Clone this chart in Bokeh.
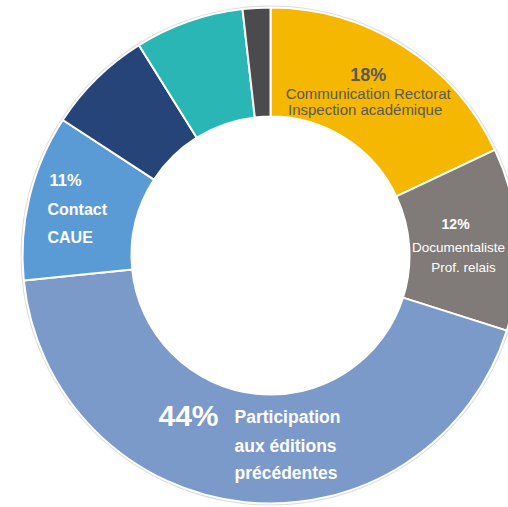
import numpy as np
from bokeh.plotting import figure
from bokeh.models import Range1d, ColumnDataSource
from bokeh.core.properties import value
from bokeh.embed import file_html
from bokeh.resources import INLINE

# ---- data ----
categories = ["Communication Rectorat / Inspection académique",
              "Documentaliste / Prof. relais",
              "Participation aux éditions précédentes",
              "Contact CAUE",
              "Autre A", "Autre B", "Autre C"]
shares = [18.0, 11.9, 43.5, 10.8, 6.9, 7.1, 1.8]
pct_labels = ["18%", "12%", "44%", "11%", "", "", ""]
name_lines = [["Communication Rectorat", "Inspection  académique"],
              ["Documentaliste", "Prof. relais"],
              ["Participation", "aux éditions", "précédentes"],
              ["Contact", "CAUE"],
              [], [], []]
colors = ["#F5B700", "#807B78", "#7B99C9", "#5B9BD5", "#264478", "#2AB6B5", "#4B4A4C"]

# ---- layout ----
W, H = 508, 507
CX, CY = 270, H - 255
R_OUT, R_IN = 248, 139
R_MID = (R_OUT + R_IN) / 2
FONT = value("Liberation Sans")

frac = np.array(shares) / sum(shares)
cum = np.concatenate([[0.0], np.cumsum(frac)])
start = np.pi / 2 - cum[1:] * 2 * np.pi
end = np.pi / 2 - cum[:-1] * 2 * np.pi
mid = (start + end) / 2
ax = CX + R_MID * np.cos(mid)
ay = CY + R_MID * np.sin(mid)

src = ColumnDataSource(dict(start=start, end=end, color=colors, cat=categories))

p = figure(width=W, height=H, x_range=Range1d(0, W), y_range=Range1d(0, H),
           output_backend="svg", toolbar_location=None, min_border=0,
           outline_line_color=None, background_fill_color="white")
p.axis.visible = False
p.grid.visible = False

p.circle(x=CX, y=CY, radius=R_OUT + 1.2, fill_color=None, line_color="#DDDDDD", line_width=1.5)
p.annular_wedge(x=CX, y=CY, inner_radius=R_IN, outer_radius=R_OUT,
                start_angle="start", end_angle="end", direction="anticlock",
                fill_color="color", line_color="white", line_width=2, source=src)

# label styles relative to each slice's mid-point (dx, dy in px, dy downwards)
styles = {
    0: dict(pct=(-6, -17, "18px", "center", "#595959"),
            lines=[(-6, 1), (-7, 17)], size="15px", style="normal", align="center", color="#595959"),
    1: dict(pct=(-8, -19, "14px", "center", "white"),
            lines=[(-5, 5), (0, 25)], size="13.5px", style="normal", align="center", color="white"),
    2: dict(pct=(-62, -32, "30px", "center", "white"),
            lines=[(-16, -31), (-16, -2), (-16, 25)], size="17.5px", style="bold", align="left", color="white"),
    3: dict(pct=(-33, -30, "16.5px", "left", "white"),
            lines=[(-35, 0), (-35, 28)], size="16px", style="bold", align="left", color="white"),
}

for i, st in styles.items():
    dx, dy, fs, al, col = st["pct"]
    p.text(x=[ax[i] + dx], y=[ay[i] - dy], text=[pct_labels[i]], text_font=FONT,
           text_font_size=value(fs), text_font_style="bold", text_align=al,
           text_baseline="middle", text_color=col)
    for (ldx, ldy), t in zip(st["lines"], name_lines[i]):
        p.text(x=[ax[i] + ldx], y=[ay[i] - ldy], text=[t], text_font=FONT,
               text_font_size=value(st["size"]), text_font_style=st["style"],
               text_align=st["align"], text_baseline="middle", text_color=st["color"])

open("out.html", "w").write(file_html(p, INLINE))
